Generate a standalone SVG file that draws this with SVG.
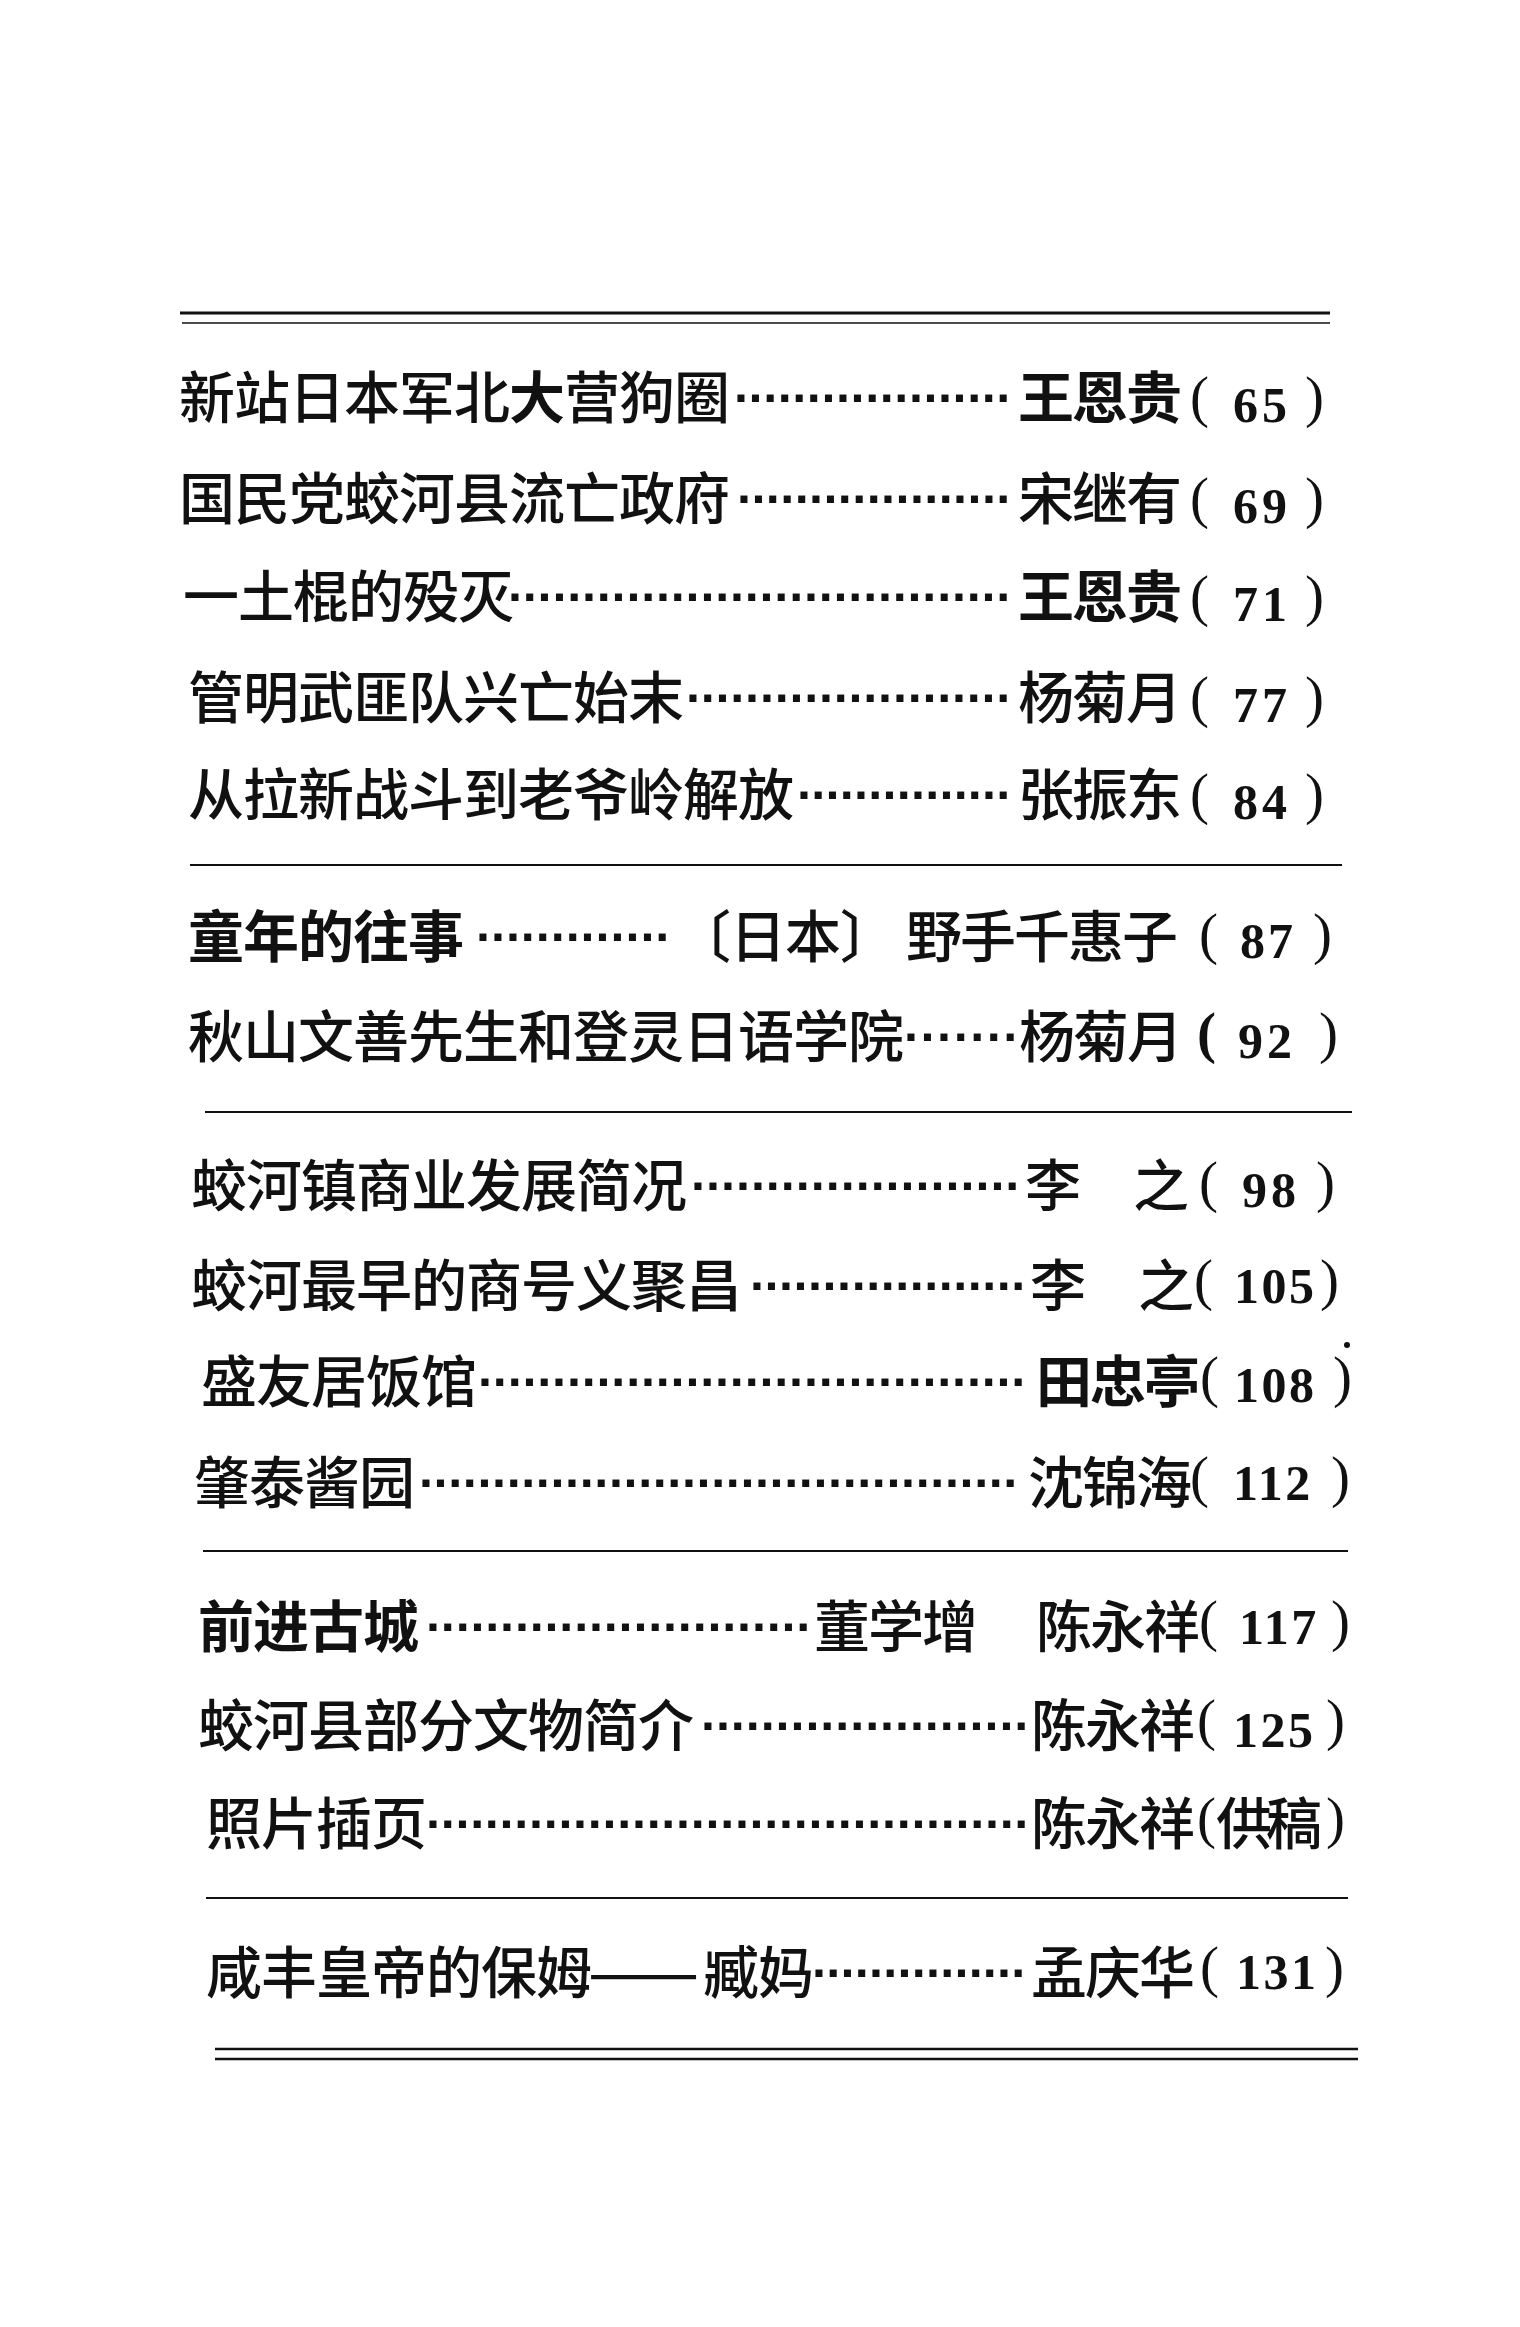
<svg xmlns="http://www.w3.org/2000/svg" width="1520" height="2327" viewBox="0 0 1520 2327">
<style>
.bg{fill:#fff}
.c{font-family:"Noto Sans CJK SC","Noto Sans CJK TC",sans-serif;font-size:56px;font-weight:500;letter-spacing:-1px;fill:#111}
.a{letter-spacing:-2px}
.b{font-weight:700}
.d{font-family:"Liberation Sans",Arial,sans-serif;font-weight:700;font-size:50px;fill:#111}
.n{font-family:"Liberation Serif","Times New Roman",serif;font-weight:700;font-size:50px;letter-spacing:2.5px;fill:#111}
.n2{letter-spacing:4px}
.p{font-family:"Liberation Serif","Times New Roman",serif;font-size:57px;fill:#111}
.r{stroke:#111;fill:none}
</style>
<rect class="bg" x="0" y="0" width="1520" height="2327"/>
<g id="rules">
<line class="r" x1="180" y1="313" x2="1330" y2="313" stroke-width="3"/>
<line class="r" x1="182" y1="323" x2="1330" y2="323" stroke-width="1.6"/>
<line class="r" x1="190" y1="865" x2="1342" y2="865" stroke-width="2"/>
<line class="r" x1="205" y1="1112" x2="1352" y2="1112" stroke-width="2"/>
<line class="r" x1="203" y1="1551" x2="1348" y2="1551" stroke-width="2"/>
<line class="r" x1="206" y1="1898" x2="1348" y2="1898" stroke-width="2"/>
<line class="r" x1="215" y1="2049" x2="1358" y2="2049" stroke-width="2.5"/>
<line class="r" x1="215" y1="2059" x2="1358" y2="2059" stroke-width="2.5"/>
</g>
<g id="entry-1">
<text class="c" x="179" y="418">新站日本军北<tspan class="b">大</tspan>营狗圈</text>
<text class="d" x="734" y="415" textLength="279" lengthAdjust="spacing">···················</text>
<text class="c a b" x="1018" y="418">王恩贵</text>
<text class="p" x="1190" y="416">(</text><text class="n n2" x="1233" y="422">65</text><text class="p" x="1305" y="416">)</text>
</g>
<g id="entry-2">
<text class="c" x="179" y="519">国民党蛟河县流亡政府</text>
<text class="d" x="737" y="516" textLength="276" lengthAdjust="spacing">···················</text>
<text class="c a" x="1018" y="519">宋继有</text>
<text class="p" x="1190" y="517">(</text><text class="n n2" x="1233" y="523">69</text><text class="p" x="1305" y="517">)</text>
</g>
<g id="entry-3">
<text class="c" x="183" y="617">一土棍的殁灭</text>
<text class="d" x="508" y="614" textLength="505" lengthAdjust="spacing">··································</text>
<text class="c a b" x="1018" y="617">王恩贵</text>
<text class="p" x="1190" y="615">(</text><text class="n n2" x="1233" y="621">71</text><text class="p" x="1305" y="615">)</text>
</g>
<g id="entry-4">
<text class="c" x="188" y="718">管明武匪队兴亡始末</text>
<text class="d" x="686" y="715" textLength="327" lengthAdjust="spacing">······················</text>
<text class="c a" x="1018" y="718">杨菊月</text>
<text class="p" x="1190" y="716">(</text><text class="n n2" x="1233" y="722">77</text><text class="p" x="1305" y="716">)</text>
</g>
<g id="entry-5">
<text class="c" x="188" y="815">从拉新战斗到老爷岭解放</text>
<text class="d" x="797" y="812" textLength="216" lengthAdjust="spacing">···············</text>
<text class="c a" x="1018" y="815">张振东</text>
<text class="p" x="1190" y="813">(</text><text class="n n2" x="1233" y="819">84</text><text class="p" x="1305" y="813">)</text>
</g>
<g id="entry-6">
<text class="c b" x="188" y="957">童年的往事</text>
<text class="d" x="476" y="954" textLength="196" lengthAdjust="spacing">·············</text>
<text class="c" x="675" y="957">〔日本〕</text>
<text class="c a" x="906" y="957">野手千惠子</text>
<text class="p" x="1199" y="953">(</text><text class="n" x="1240" y="958" style="letter-spacing:3px">87</text><text class="p" x="1313" y="953">)</text>
</g>
<g id="entry-7">
<text class="c" x="188" y="1057">秋山文善先生和登灵日语学院</text>
<text class="d" x="904" y="1054" textLength="116" lengthAdjust="spacing">·······</text>
<text class="c a" x="1019" y="1057">杨菊月</text>
<text class="p b" x="1197" y="1052">(</text><text class="n n2" x="1238" y="1058">92</text><text class="p" x="1319" y="1052">)</text>
</g>
<g id="entry-8">
<text class="c" x="191" y="1206">蛟河镇商业发展简况</text>
<text class="d" x="691" y="1203" textLength="331" lengthAdjust="spacing">······················</text>
<text class="c a" x="1025" y="1206">李　之</text>
<text class="p" x="1199" y="1201">(</text><text class="n n2" x="1242" y="1207">98</text><text class="p" x="1316" y="1201">)</text>
</g>
<g id="entry-9">
<text class="c" x="191" y="1306">蛟河最早的商号义聚昌</text>
<text class="d" x="750" y="1303" textLength="278" lengthAdjust="spacing">···················</text>
<text class="c a" x="1030" y="1306">李　之</text>
<text class="p" x="1194" y="1299">(</text><text class="n" x="1234" y="1303">105</text><text class="p" x="1320" y="1299">)</text>
</g>
<g id="entry-10">
<text class="c" x="201" y="1402">盛友居饭馆</text>
<text class="d" x="478" y="1399" textLength="550" lengthAdjust="spacing">·····································</text>
<text class="c a b" x="1036" y="1402">田忠亭</text>
<text class="p" x="1200" y="1396">(</text><text class="n" x="1234" y="1402">108</text><text class="p" x="1333" y="1396">)</text>
<circle cx="1347" cy="1345" r="3" fill="#111"/>
</g>
<g id="entry-11">
<text class="c" x="194" y="1503">肇泰酱园</text>
<text class="d" x="419" y="1500" textLength="601" lengthAdjust="spacing">·········································</text>
<text class="c a" x="1028" y="1503">沈锦海</text>
<text class="p" x="1190" y="1496">(</text><text class="n" x="1233" y="1500">112</text><text class="p" x="1331" y="1496">)</text>
</g>
<g id="entry-12">
<text class="c b" x="198" y="1647">前进古城</text>
<text class="d" x="426" y="1644" textLength="387" lengthAdjust="spacing">··························</text>
<text class="c a" x="814" y="1647">董学增</text>
<text class="c a" x="1036" y="1647">陈永祥</text>
<text class="p" x="1199" y="1640">(</text><text class="n" x="1239" y="1644">117</text><text class="p" x="1331" y="1640">)</text>
</g>
<g id="entry-13">
<text class="c" x="198" y="1746">蛟河县部分文物简介</text>
<text class="d" x="701" y="1743" textLength="330" lengthAdjust="spacing">······················</text>
<text class="c a" x="1031" y="1746">陈永祥</text>
<text class="p" x="1197" y="1739">(</text><text class="n" x="1233" y="1747">125</text><text class="p" x="1326" y="1739">)</text>
</g>
<g id="entry-14">
<text class="c" x="206" y="1844">照片插页</text>
<text class="d" x="426" y="1841" textLength="605" lengthAdjust="spacing">·········································</text>
<text class="c a" x="1031" y="1844">陈永祥</text>
<text class="p" x="1197" y="1837">(</text><text class="c" x="1216" y="1844" style="letter-spacing:-6px">供稿</text><text class="p" x="1326" y="1837">)</text>
</g>
<g id="entry-15">
<text class="c" x="206" y="1993">咸丰皇帝的保姆</text>
<text class="c" x="588" y="1993" textLength="110" lengthAdjust="spacingAndGlyphs">——</text>
<text class="c" x="703" y="1993">臧妈</text>
<text class="d" x="812" y="1990" textLength="216" lengthAdjust="spacing">···············</text>
<text class="c a" x="1031" y="1993">孟庆华</text>
<text class="p" x="1200" y="1986">(</text><text class="n" x="1236" y="1989">131</text><text class="p" x="1325" y="1986">)</text>
</g>
</svg>
